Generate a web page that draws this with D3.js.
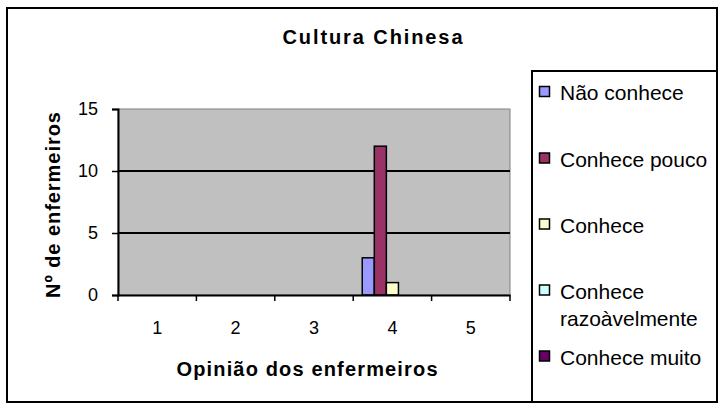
<!DOCTYPE html>
<html lang="pt">
<head>
<meta charset="UTF-8">
<title>Cultura Chinesa</title>
<script src="https://d3js.org/d3.v7.min.js"></script>
<style>
  html, body { margin: 0; padding: 0; background: #fff; }
  svg { display: block; font-family: "Liberation Sans", Arial, sans-serif; }
</style>
</head>
<body>
<svg id="chart" width="720" height="411"></svg>
<script>
(function () {
  'use strict';

  // data
  const categories = ["1", "2", "3", "4", "5"];
  const seriesNames = ["Não conhece", "Conhece pouco", "Conhece", "Conhece razoàvelmente", "Conhece muito"];
  const legendLines = [["Não conhece"], ["Conhece pouco"], ["Conhece"], ["Conhece", "razoàvelmente"], ["Conhece muito"]];
  const naoConhece = [0, 0, 0, 3, 0];
  const conhecePouco = [0, 0, 0, 12, 0];
  const conhece = [0, 0, 0, 1, 0];
  const conheceRazoavel = [0, 0, 0, 0, 0];
  const conheceMuito = [0, 0, 0, 0, 0];
  const yTicks = [0, 5, 10, 15];
  const colors = ["#9999FF", "#993366", "#FFFFCC", "#CCFFFF", "#660066"];

  const seriesValues = [naoConhece, conhecePouco, conhece, conheceRazoavel, conheceMuito];

  const svg = d3.select("#chart");

  // plot area
  const plot = { left: 118, right: 510, top: 109, bottom: 295 };

  const x0 = d3.scaleBand().domain(categories).range([plot.left, plot.right]).padding(0);
  const gap = 1.5; // excel gap width 150%
  const barW = x0.bandwidth() / (seriesNames.length + gap);
  const x1 = d3.scaleBand().domain(seriesNames)
      .range([barW * gap / 2, barW * gap / 2 + barW * seriesNames.length]).padding(0);
  const y = d3.scaleLinear().domain([0, 15]).range([plot.bottom, plot.top]);

  // outer chart border
  svg.append("rect")
      .attr("x", 7).attr("y", 8).attr("width", 710).attr("height", 394)
      .attr("fill", "#fff").attr("stroke", "#000").attr("stroke-width", 2);

  // title
  svg.append("text")
      .attr("x", 372.5).attr("y", 44)
      .attr("text-anchor", "middle")
      .attr("font-weight", "bold").attr("font-size", 20)
      .attr("textLength", 180).attr("lengthAdjust", "spacing")
      .text("Cultura Chinesa");

  // plot background
  svg.append("rect")
      .attr("x", plot.left).attr("y", plot.top)
      .attr("width", plot.right - plot.left).attr("height", plot.bottom - plot.top)
      .attr("fill", "#C0C0C0").attr("stroke", "#808080").attr("stroke-width", 1);

  // gridlines
  svg.append("g").selectAll("line")
      .data(yTicks.filter(d => d > 0 && d < 15))
      .join("line")
      .attr("x1", plot.left).attr("x2", plot.right)
      .attr("y1", d => y(d)).attr("y2", d => y(d))
      .attr("stroke", "#000").attr("stroke-width", 2);

  // bars
  const groups = svg.append("g").selectAll("g")
      .data(categories)
      .join("g")
      .attr("transform", d => `translate(${x0(d)},0)`);

  groups.selectAll("rect")
      .data((c, ci) => seriesNames.map((s, si) => ({ s: s, si: si, v: seriesValues[si][ci] })).filter(d => d.v > 0))
      .join("rect")
      .attr("x", d => x1(d.s))
      .attr("width", x1.bandwidth())
      .attr("y", d => y(d.v))
      .attr("height", d => y(0) - y(d.v))
      .attr("fill", d => colors[d.si])
      .attr("stroke", "#000").attr("stroke-width", 1.5);

  // y axis
  const yAxis = svg.append("g")
      .attr("transform", `translate(${plot.left},0)`)
      .call(d3.axisLeft(y).tickValues(yTicks).tickSize(6).tickPadding(14));
  yAxis.select(".domain").attr("stroke", "#000").attr("stroke-width", 2);
  yAxis.selectAll(".tick line").attr("stroke", "#000").attr("stroke-width", 1.5);
  yAxis.selectAll(".tick text").attr("font-size", 18).attr("fill", "#000")
      .attr("font-family", "Liberation Sans, Arial, sans-serif");

  // x axis: ticks at category boundaries
  const xAxis = svg.append("g")
      .attr("transform", `translate(0,${plot.bottom})`)
      .call(d3.axisBottom(x0).tickSize(0).tickPadding(26));
  xAxis.select(".domain").attr("stroke", "#000").attr("stroke-width", 2);
  xAxis.selectAll(".tick text").attr("font-size", 18).attr("fill", "#000")
      .attr("font-family", "Liberation Sans, Arial, sans-serif");
  xAxis.selectAll("line.boundary")
      .data(categories.map(c => x0(c)).concat([x0.range()[1]]))
      .join("line")
      .attr("class", "boundary")
      .attr("x1", d => d).attr("x2", d => d)
      .attr("y1", 0).attr("y2", 6)
      .attr("stroke", "#000").attr("stroke-width", 1.5);

  // axis titles
  svg.append("text")
      .attr("x", 307).attr("y", 376)
      .attr("text-anchor", "middle")
      .attr("font-weight", "bold").attr("font-size", 20)
      .attr("textLength", 261).attr("lengthAdjust", "spacing")
      .text("Opinião dos enfermeiros");

  svg.append("text")
      .attr("transform", "translate(60,205) rotate(-90)")
      .attr("text-anchor", "middle")
      .attr("font-weight", "bold").attr("font-size", 20)
      .attr("textLength", 186).attr("lengthAdjust", "spacing")
      .text("Nº de enfermeiros");

  // legend
  svg.append("rect")
      .attr("x", 532).attr("y", 71).attr("width", 185).attr("height", 331)
      .attr("fill", "#fff").attr("stroke", "#000").attr("stroke-width", 2);

  const legendY = [92.5, 159, 225, 291, 357];
  const items = svg.append("g").selectAll("g")
      .data(seriesNames)
      .join("g")
      .attr("transform", (d, i) => `translate(0,${legendY[i]})`);

  items.append("rect")
      .attr("x", 539.5).attr("y", -6)
      .attr("width", 10).attr("height", 10)
      .attr("fill", (d, i) => colors[i])
      .attr("stroke", "#000").attr("stroke-width", 1.5);

  items.append("text")
      .attr("x", 560)
      .attr("font-size", 21)
      .selectAll("tspan")
      .data((d, i) => legendLines[i])
      .join("tspan")
      .attr("x", 560)
      .attr("y", (d, j) => 7.5 + j * 27)
      .text(d => d);
}());
</script>
</body>
</html>
